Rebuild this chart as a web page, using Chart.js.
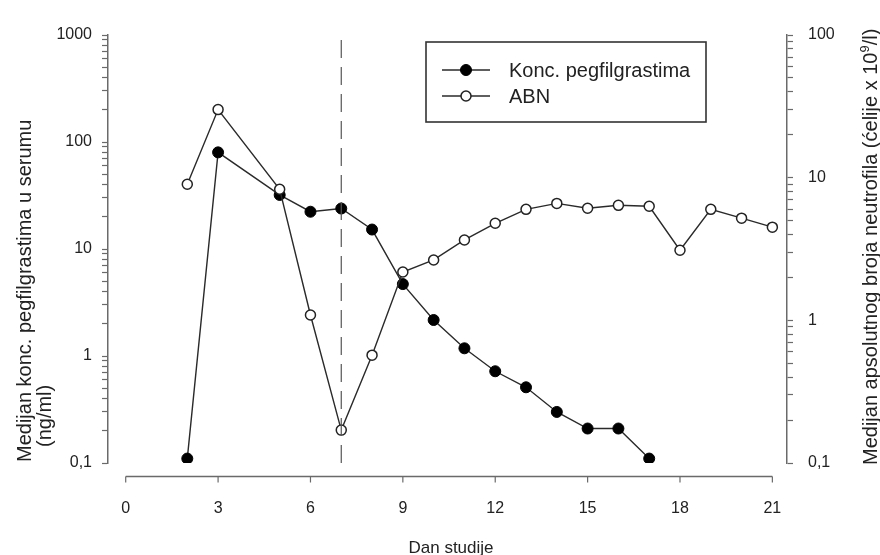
<!DOCTYPE html>
<html>
<head>
<meta charset="utf-8">
<script src="https://cdn.jsdelivr.net/npm/chart.js@4.4.1/dist/chart.umd.min.js"></script>
<style>
  html,body{margin:0;padding:0;background:#fff;}
  #wrap{width:880px;height:555px;position:relative;}
</style>
</head>
<body>
<div id="wrap"><canvas id="chart" width="880" height="555"></canvas></div>
<script>
// ── DATOS ───────────────────────────────────────────────
const daniPeg = [2,3,5,6,7,8,9,10,11,12,13,14,15,16,17];
const koncPeg = [0.11,80,32,22.3,23.9,15.2,4.7,2.17,1.18,0.72,0.51,0.30,0.21,0.21,0.11];
const daniAbn = [2,3,5,6,7,8,9,10,11,12,13,14,15,16,17,18,19,20,21];
const abn     = [9.0,30,8.3,1.09,0.17,0.57,2.18,2.65,3.66,4.79,6.0,6.6,6.1,6.4,6.3,3.1,6.0,5.2,4.5];
const xTicks      = [0,3,6,9,12,15,18,21];
const lijeviTicks = [0.1,1,10,100,1000];
const desniTicks  = [0.1,1,10,100];
const nazivi      = ['Konc. pegfilgrastima','ABN'];
const danDoze     = 7;

const FONT = "'Liberation Sans', Arial, sans-serif";
const TXT = '#222';
const AXIS = '#6a6a6a';

// ── UTILS ───────────────────────────────────────────────
function fmtBroj(v){ return String(v).replace('.', ','); }
function logTicks(dekade){
  // 1..9 × svaka dekada, zadnja dekada samo sama
  const out = [];
  for(let i=0;i<dekade.length-1;i++){
    for(let m=1;m<10;m++) out.push({ value: +(dekade[i]*m).toPrecision(3) });
  }
  out.push({ value: dekade[dekade.length-1] });
  return out;
}
function yScale(dekade, pos, width, padding){
  return {
    type:'logarithmic', position:pos,
    min: dekade[0], max: dekade[dekade.length-1],
    afterBuildTicks: s => { s.ticks = logTicks(dekade); },
    afterFit: s => { s.width = width; },
    ticks:{
      autoSkip:false, padding,
      color:TXT, font:{ family:FONT, size:16 },
      callback: v => dekade.includes(v) ? fmtBroj(v) : ''
    },
    grid:{ drawOnChartArea:false, drawTicks:true, tickLength:6, color:AXIS, tickWidth:1.2 },
    border:{ display:true, color:AXIS, width:1.5 }
  };
}

// ── DODATAK: osi, isprekidana linija, legenda, naslovi ──
const ukrasi = {
  id:'ukrasi',
  afterDatasetsDraw(chart){
    const { ctx, chartArea:ca, scales:{ x } } = chart;
    ctx.save();
    // isprekidana linija na dan doze
    const xd = x.getPixelForValue(danDoze);
    ctx.strokeStyle = '#555'; ctx.lineWidth = 1.2;
    ctx.setLineDash([18,9]);
    ctx.beginPath(); ctx.moveTo(xd, ca.top+5); ctx.lineTo(xd, ca.bottom+2); ctx.stroke();
    ctx.setLineDash([]);

    // x os (odvojena)
    const yo = ca.bottom + 13.5;
    ctx.strokeStyle = AXIS; ctx.lineWidth = 1.5;
    ctx.beginPath();
    ctx.moveTo(x.getPixelForValue(xTicks[0]), yo);
    ctx.lineTo(x.getPixelForValue(xTicks[xTicks.length-1]), yo);
    ctx.stroke();
    ctx.lineWidth = 1.2;
    xTicks.forEach(t=>{
      const px = x.getPixelForValue(t);
      ctx.beginPath(); ctx.moveTo(px, yo); ctx.lineTo(px, yo+6); ctx.stroke();
    });

    // legenda
    const L = { x:426, y:42, w:280, h:80 };
    ctx.fillStyle = '#fff';
    ctx.fillRect(L.x, L.y, L.w, L.h);
    ctx.strokeStyle = '#333'; ctx.lineWidth = 1.6;
    ctx.strokeRect(L.x, L.y, L.w, L.h);
    const redovi = [70, 96];
    chart.data.datasets.forEach((ds, i)=>{
      const yy = redovi[i];
      ctx.strokeStyle = ds.borderColor; ctx.lineWidth = 1.5;
      ctx.beginPath(); ctx.moveTo(442, yy); ctx.lineTo(490, yy); ctx.stroke();
      ctx.beginPath(); ctx.arc(466, yy, ds.pointRadius, 0, Math.PI*2);
      ctx.fillStyle = ds.pointBackgroundColor; ctx.fill();
      ctx.strokeStyle = ds.pointBorderColor; ctx.lineWidth = ds.pointBorderWidth; ctx.stroke();
      ctx.fillStyle = TXT;
      ctx.font = `20px ${FONT}`;
      ctx.textAlign = 'left'; ctx.textBaseline = 'middle';
      ctx.fillText(ds.label, 509, yy+1);
    });

    // naslov x osi
    ctx.fillStyle = TXT;
    ctx.font = `17px ${FONT}`;
    ctx.textAlign = 'center'; ctx.textBaseline = 'alphabetic';
    ctx.fillText('Dan studije', 451, 553);

    // lijevi naslov (dva reda, poravnato dolje)
    ctx.font = `20px ${FONT}`;
    ctx.textAlign = 'left';
    ctx.save(); ctx.translate(31, 462); ctx.rotate(-Math.PI/2);
    ctx.fillText('Medijan konc. pegfilgrastima u serumu', 0, 0);
    ctx.restore();
    ctx.save(); ctx.translate(51, 447); ctx.rotate(-Math.PI/2);
    ctx.fillText('(ng/ml)', 0, 0);
    ctx.restore();

    // desni naslov s eksponentom
    ctx.save(); ctx.translate(877, 465); ctx.rotate(-Math.PI/2);
    ctx.font = `20px ${FONT}`;
    const dio1 = 'Medijan apsolutnog broja neutrofila (ćelije x 10';
    ctx.fillText(dio1, 0, 0);
    let w = ctx.measureText(dio1).width;
    ctx.font = `13px ${FONT}`;
    ctx.fillText('9', w, -8);
    w += ctx.measureText('9').width;
    ctx.font = `20px ${FONT}`;
    ctx.fillText('/l)', w, 0);
    ctx.restore();

    ctx.restore();
  }
};

// ── GRAFIKON ────────────────────────────────────────────
new Chart(document.getElementById('chart'), {
  type:'line',
  data:{
    datasets:[
      {
        label:nazivi[0], yAxisID:'y', order:2,
        data: daniPeg.map((d,i)=>({ x:d, y:koncPeg[i] })),
        borderColor:'#2a2a2a', borderWidth:1.4,
        pointRadius:5.5, pointBackgroundColor:'#000', pointBorderColor:'#000', pointBorderWidth:1,
        tension:0
      },
      {
        label:nazivi[1], yAxisID:'y2', order:1,
        data: daniAbn.map((d,i)=>({ x:d, y:abn[i] })),
        borderColor:'#2a2a2a', borderWidth:1.4,
        pointRadius:5, pointBackgroundColor:'#fff', pointBorderColor:'#222', pointBorderWidth:1.5,
        tension:0
      }
    ]
  },
  options:{
    responsive:false, animation:false,
    layout:{ padding:{ top:35, left:0, right:0, bottom:0 } },
    plugins:{ legend:{ display:false }, tooltip:{ enabled:false } },
    scales:{
      x:{
        type:'linear', min:-0.575, max:21.475,
        afterBuildTicks: s => { s.ticks = xTicks.map(v=>({ value:v })); },
        afterFit: s => { s.height = 92; },
        ticks:{ autoSkip:false, padding:28, color:TXT, font:{ family:FONT, size:16 } },
        grid:{ display:false },
        border:{ display:false }
      },
      y:  yScale(lijeviTicks, 'left', 108, 10),
      y2: yScale(desniTicks, 'right', 93, 15)
    }
  },
  plugins:[ukrasi]
});
</script>
</body>
</html>
